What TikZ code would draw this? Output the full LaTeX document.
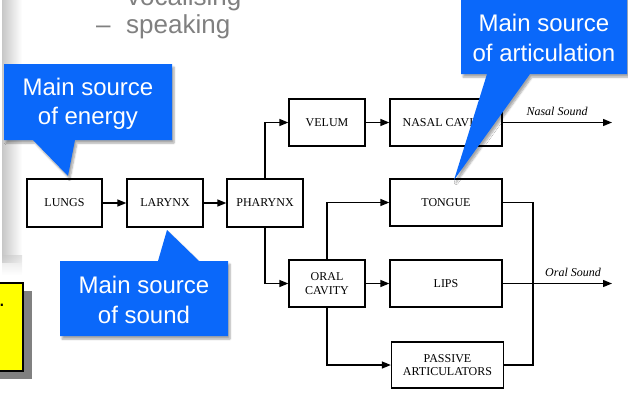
\documentclass[tikz,border=0pt]{standalone}
\usepackage{fontspec}
\setmainfont{Liberation Serif}
\newfontfamily\arialf{Liberation Sans}
\usetikzlibrary{arrows.meta,shadows.blur}

\definecolor{calloutblue}{RGB}{10,104,250}
\definecolor{bulletgray}{RGB}{128,128,128}
\definecolor{notefill}{RGB}{255,255,0}

\tikzset{
  organ/.style={draw=black, line width=1.3pt, fill=white, inner sep=1pt,
    align=center, font=\fontsize{12}{13.5}\selectfont},
  flow/.style={line width=1.3pt, -{Triangle[length=9pt,width=7pt]}},
  wire/.style={line width=1.3pt},
  soundlabel/.style={font=\itshape\fontsize{12}{14}\selectfont, inner sep=0pt},
  callout/.style={fill=calloutblue, draw=none,
    blur shadow={shadow xshift=2pt, shadow yshift=-3pt, shadow blur steps=6, shadow opacity=35}},
  callouttext/.style={text=white, align=center, inner sep=0pt,
    font=\arialf\fontsize{24}{29.5}\selectfont},
  bullet/.style={text=bulletgray, inner sep=0pt, font=\arialf\fontsize{26}{30}\selectfont}
}

\begin{document}
\begin{tikzpicture}[x=1pt,y=-1pt]
\useasboundingbox (0,0) rectangle (628,394);

% slide edge on the left
\shade[left color=black!22, right color=white] (2,0) rectangle (22,262);
\shade[top color=black!22, bottom color=white, opacity=0.5] (2,255) rectangle (22,275);

% note box cut by the slide edge
\fill[bulletgray] (-5,291) rectangle (32,379);
\draw[fill=notefill, line width=1.2pt] (-5,283) rectangle (23,371);
\node[inner sep=0pt, font=\arialf\fontsize{22}{24}\selectfont, anchor=base] (dot) at (2,306) {.};

% bullet lines
\node[bullet, anchor=base west] (vocal) at (127,5) {vocalising};
\node[bullet, anchor=base west] (dash) at (96,33) {–};
\node[bullet, anchor=base west] (speak) at (126,33) {speaking};

% organs
\node[organ, minimum width=75pt, minimum height=48pt] (lungs)   at (64.5,203) {LUNGS};
\node[organ, minimum width=76pt, minimum height=48pt] (larynx)  at (165,203) {LARYNX};
\node[organ, minimum width=76pt, minimum height=48pt] (pharynx) at (265,203) {PHARYNX};
\node[organ, minimum width=76pt, minimum height=47pt] (velum)   at (327,122.5) {VELUM};
\node[organ, minimum width=112pt, minimum height=47pt] (nasal)  at (446,122.5) {NASAL CAVITY};
\node[organ, minimum width=76pt, minimum height=47pt] (oral)    at (327,283.5) {ORAL\\CAVITY};
\node[organ, minimum width=112pt, minimum height=47pt] (tongue) at (446,202.5) {TONGUE};
\node[organ, minimum width=112pt, minimum height=47pt] (lips)   at (446,283.5) {LIPS};
\node[organ, minimum width=112pt, minimum height=46pt] (passive) at (447.5,365) {PASSIVE\\ARTICULATORS};

% free ends and junctions
\coordinate (nasalout) at (612,122.5);
\coordinate (oralout) at (612,283.5);
\coordinate (jtop) at (533,202.5);
\coordinate (jbot) at (533,365);

% connectors
\draw[flow] (lungs) -- (larynx);
\draw[flow] (larynx) -- (pharynx);
\draw[flow] (pharynx.north) |- (velum.west);
\draw[flow] (pharynx.south) |- (oral.west);
\draw[flow] (velum) -- (nasal);
\draw[flow] (nasal.east) -- (nasalout);
\draw[flow] (oral.north) |- (tongue.west);
\draw[flow] (oral) -- (lips);
\draw[flow] (oral.south) |- (passive.west);
\draw[wire] (tongue.east) -- (jtop) -- (jbot) -- (passive.east);
\draw[flow] (lips.east) -- (oralout);

\node[soundlabel] (nasallbl) at (557,111) {Nasal Sound};
\node[soundlabel] (orallbl) at (573,272) {Oral Sound};

% callouts
\path[callout] (4,64) -- (172,64) -- (172,140) -- (75,140) -- (68,176) -- (33,140) -- (4,140) -- cycle;
\node[callouttext] (energy) at (88,104) {Main source\\of energy};

\path[callout] (60,261) -- (158,261) -- (167,230) -- (199,261) -- (228,261) -- (228,336) -- (60,336) -- cycle;
\node[callouttext] (sound) at (144,300) {Main source\\of sound};

\path[callout] (461,-5) -- (627,-5) -- (627,74) -- (530,74) -- (454,180) -- (487,74) -- (461,74) -- cycle;
\node[callouttext] (artic) at (544,38) {Main source\\of articulation};
\end{tikzpicture}
\end{document}
